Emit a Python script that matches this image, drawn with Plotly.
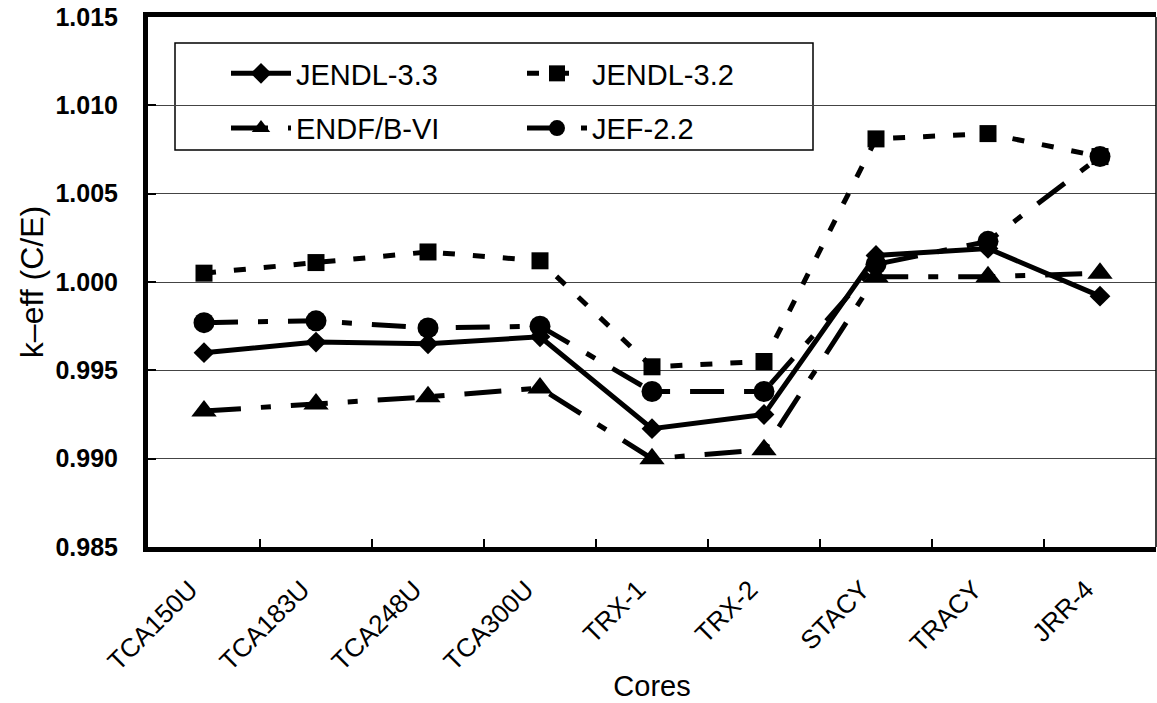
import plotly.graph_objects as go

cores = ["TCA150U", "TCA183U", "TCA248U", "TCA300U", "TRX-1", "TRX-2", "STACY", "TRACY", "JRR-4"]
jendl33 = [0.9960, 0.9966, 0.9965, 0.9969, 0.9917, 0.9925, 1.0015, 1.0019, 0.9992]
jendl32 = [1.0005, 1.0011, 1.0017, 1.0012, 0.9952, 0.9955, 1.0081, 1.0084, 1.0071]
endfb6 = [0.9927, 0.9931, 0.9935, 0.9940, 0.9900, 0.9905, 1.0003, 1.0003, 1.0005]
jef22 = [0.9977, 0.9978, 0.9974, 0.9975, 0.9938, 0.9938, 1.0010, 1.0023, 1.0071]
y_ticks = [0.985, 0.990, 0.995, 1.000, 1.005, 1.010, 1.015]
y_ticktext = ["0.985", "0.990", "0.995", "1.000", "1.005", "1.010", "1.015"]

FONT = "Liberation Sans, Arial, sans-serif"
W, H = 1157, 703
L, R, T, B = 148, 1, 17, 156
pw, ph = W - L - R, H - T - B


def px2x(px):
    return (px - L) / pw


def py2y(py):
    return (H - B - py) / ph


fig = go.Figure()

series = [
    ("JENDL-3.3", jendl33, "solid", "diamond", 16, "legend", "g1"),
    ("ENDF/B-VI", endfb6, "37px,20px,10px,20px", "triangle-up", 22, "legend", "g2"),
    ("JENDL-3.2", jendl32, "12px,18px", "square", 17, "legend2", "g3"),
    ("JEF-2.2", jef22, "34px,20px,10px,20px", "circle", 21, "legend2", "g4"),
]
for name, vals, dash, sym, size, leg, grp in series:
    fig.add_trace(go.Scatter(
        x=cores, y=vals, name=name, mode="lines+markers",
        line=dict(color="black", width=5, dash=dash),
        marker=dict(symbol=sym, size=size, color="black"),
        legend=leg, legendgroup=grp,
    ))

legend_common = dict(
    font=dict(family=FONT, size=29, color="black"),
    bgcolor="rgba(0,0,0,0)", borderwidth=0,
    xanchor="left", yanchor="top", tracegroupgap=14,
    orientation="v", itemwidth=60,
)
fig.update_layout(
    legend=dict(x=px2x(226), y=py2y(48), **legend_common),
    legend2=dict(x=px2x(522), y=py2y(48), **legend_common),
)

fig.add_shape(type="rect", xref="paper", yref="paper",
              x0=px2x(175), x1=px2x(813), y0=py2y(150), y1=py2y(43),
              line=dict(color="black", width=1.5), fillcolor="rgba(0,0,0,0)", layer="below")
fig.add_shape(type="line", xref="paper", yref="paper",
              x0=1, x1=1, y0=0, y1=1, line=dict(color="black", width=1.5))

fig.update_layout(
    width=W, height=H,
    margin=dict(l=L, r=R, t=T, b=B),
    paper_bgcolor="white", plot_bgcolor="white",
    font=dict(family=FONT, color="black"),
    showlegend=True,
    xaxis=dict(
        type="category", range=[-0.5, 8.5],
        tickangle=-45, tickfont=dict(family=FONT, size=26),
        ticks="inside", tickson="boundaries", ticklen=8, tickwidth=1.5, tickcolor="black",
        ticklabelstandoff=12, ticklabelshift=-14,
        showline=True, linecolor="black", linewidth=5, mirror=True,
        showgrid=False, zeroline=False,
        title=dict(text="Cores", font=dict(family=FONT, size=29), standoff=2),
    ),
    yaxis=dict(
        range=[0.985, 1.015], tickvals=y_ticks, ticktext=y_ticktext,
        tickfont=dict(family=FONT, size=25, weight="bold"),
        ticks="inside", ticklen=8, tickwidth=1.5, tickcolor="black",
        ticklabelstandoff=20,
        showline=True, linecolor="black", linewidth=5, mirror=False,
        showgrid=True, gridcolor="#444444", gridwidth=1, zeroline=False,
        title=dict(text="k\u2013eff (C/E)", font=dict(family=FONT, size=32), standoff=4),
    ),
)

fig.write_html("out.html")
